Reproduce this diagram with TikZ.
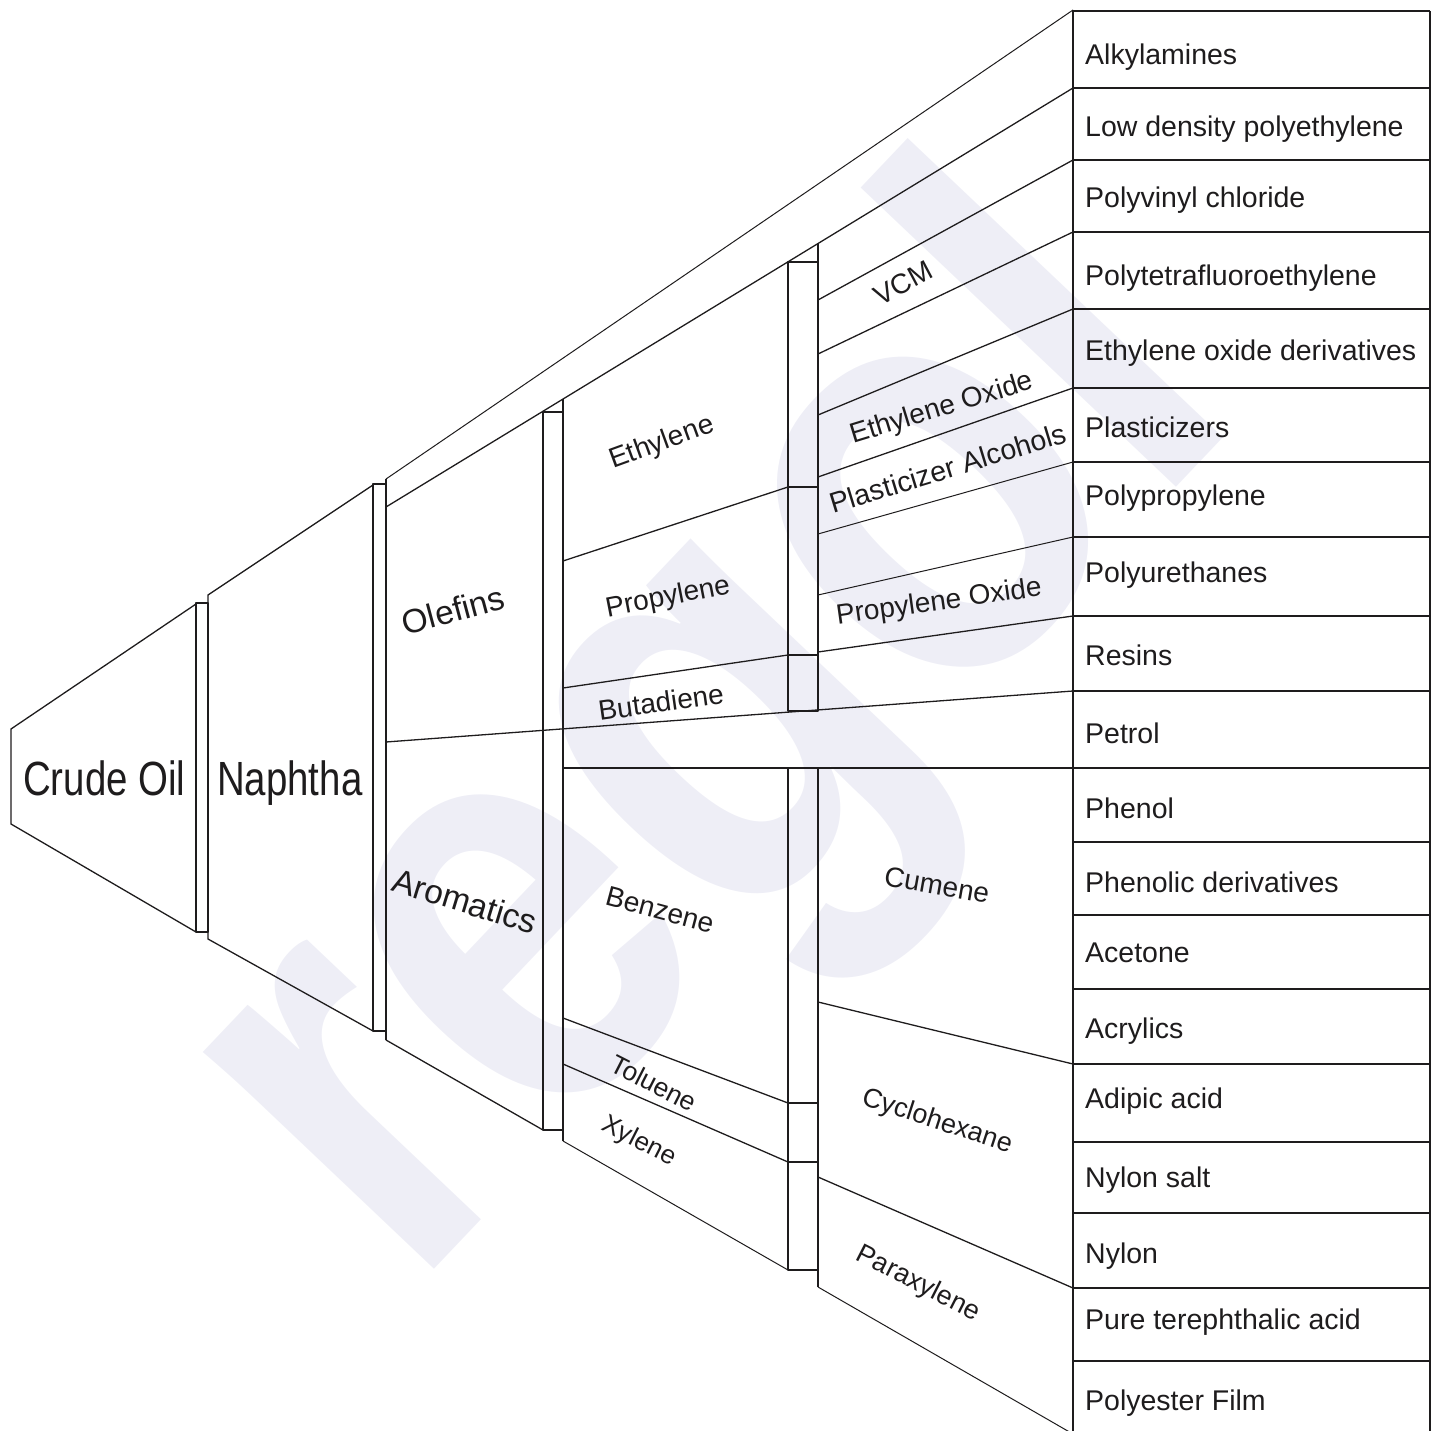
\documentclass[tikz,border=0pt]{standalone}
\usepackage{fontspec}
\setmainfont{Liberation Sans}
\usepackage{graphicx}
\definecolor{wm}{RGB}{238,238,246}
\definecolor{ln}{RGB}{30,28,29}
\begin{document}
\begin{tikzpicture}[x=1pt,y=-1pt,
  ln/.style={draw=ln,line width=1.3pt,line join=round},
  thin ln/.style={draw=ln,line width=1pt},
  lbl/.style={inner sep=0pt,text=ln,font=\fontsize{28}{30}\selectfont},
  prod/.style={inner sep=0pt,anchor=base west,text=ln,font=\fontsize{28.5}{30}\selectfont},
  big/.style={inner sep=0pt,anchor=base west,text=ln,font=\fontsize{48}{50}\selectfont},
  mid/.style={inner sep=0pt,text=ln,font=\fontsize{33.5}{35}\selectfont}]
\useasboundingbox (0,0) rectangle (1435,1431);
\begin{scope}
\clip (0,0) rectangle (1435,1431);
% watermark
\node[inner sep=0pt,anchor=base west,rotate=46.5,text=wm,font=\fontsize{600}{600}\selectfont\bfseries] (wmark) at (410,1295) {\scalebox{0.83}[1]{regol}};

% ---------- coordinates ----------
% crude oil
\coordinate (c1) at (11,729);  \coordinate (c2) at (11,824);
\coordinate (c3) at (196,604); \coordinate (c4) at (196,932);
% naphtha
\coordinate (n1) at (208,595); \coordinate (n2) at (208,939);
\coordinate (n3) at (373,485); \coordinate (n4) at (373,1031);
% olefins / aromatics column
\coordinate (o0) at (386,479); \coordinate (oA) at (386,507);
\coordinate (oM) at (386,742); \coordinate (oB) at (386,1040);
\coordinate (aB) at (543,1130);
% right column
\coordinate (r0) at (1073,10);
% ---------- shapes ----------
\draw[ln] (c3) -- (c1) -- (c2) -- (c4);
\draw[ln] (196,603) rectangle (208,932);
\draw[ln] (n3) -- (n1) -- (n2) -- (n4);
\draw[ln] (373,484) rectangle (386,1031);
\draw[ln] (o0) -- (oB);
\draw[thin ln] (o0) -- (r0);
\draw[ln] (oA) -- (1073,88);
\draw[ln] (oM) -- (1073,691);
\draw[ln] (oB) -- (aB);
% ethylene-level bar
\draw[ln] (543,412) rectangle (563,1130);
\draw[ln] (563,399) -- (563,1141);
\draw[ln] (563,561) -- (788,487);
\draw[ln] (563,688) -- (788,655);
\draw[ln] (563,768) -- (1073,768);
\draw[ln] (563,1018) -- (788,1103);
\draw[ln] (563,1064) -- (788,1162);
\draw[thin ln] (563,1141) -- (788,1270);
% upper bar 788-818
\draw[ln] (788,262) rectangle (818,711);
\draw[ln] (788,487) -- (818,487);
\draw[ln] (788,655) -- (818,655);
\draw[ln] (818,244) -- (818,711);
\draw[ln] (818,300) -- (1073,160);
\draw[ln] (818,354) -- (1073,232);
\draw[ln] (818,415) -- (1073,309);
\draw[ln] (818,477) -- (1073,388);
\draw[thin ln] (818,534) -- (1073,462);
\draw[thin ln] (818,595) -- (1073,537);
\draw[ln] (818,652) -- (1073,616);
% lower bar 788-818
\draw[ln] (788,768) rectangle (818,1270);
\draw[ln] (788,1103) -- (818,1103);
\draw[ln] (788,1162) -- (818,1162);
\draw[ln] (818,768) -- (818,1287);
\draw[ln] (818,1002) -- (1073,1064);
\draw[ln] (818,1177) -- (1073,1288);
\draw[thin ln] (818,1287) -- (1073,1434);
% product column
\draw[ln] (r0) -- (1073,1440);
\draw[ln] (1430,11) -- (1430,1440);
\foreach \yy in {11,88,160,232,309,388,462,537,616,691,768,842,915,989,1064,1142,1213,1288,1361}
  \draw[ln] (1073,\yy) -- (1430,\yy);
\end{scope}

% ---------- labels ----------
\node[big] (crude) at (23,795) {\scalebox{0.8}[1]{Crude Oil}};
\node[big] (naph) at (217,795) {\scalebox{0.8}[1]{Naphtha}};
\node[mid,rotate=15] (olef) at (453,610) {Olefins};
\node[mid,rotate=-17] (arom) at (465,901) {Aromatics};
\node[lbl,rotate=20] (eth) at (662,443) {Ethylene};
\node[lbl,rotate=11] (prop) at (668,598) {Propylene};
\node[lbl,rotate=8] (buta) at (661,702) {Butadiene};
\node[lbl,rotate=-15] (benz) at (660,910) {Benzene};
\node[lbl,rotate=-27,font=\fontsize{26.5}{28}\selectfont] (tol) at (654,1083) {Toluene};
\node[lbl,rotate=-27,font=\fontsize{26}{28}\selectfont] (xyl) at (639,1142) {Xylene};
\node[lbl,rotate=28] (vcm) at (903,283) {VCM};
\node[lbl,rotate=17] (eo) at (942,409) {Ethylene Oxide};
\node[lbl,rotate=17,font=\fontsize{28.5}{30}\selectfont] (pa) at (948,468) {Plasticizer Alcohols};
\node[lbl,rotate=8] (po) at (939,603) {Propylene Oxide};
\node[lbl,rotate=-10] (cum) at (937,885) {Cumene};
\node[lbl,rotate=-18,font=\fontsize{27}{28}\selectfont] (cyc) at (937,1122) {Cyclohexane};
\node[lbl,rotate=-27,font=\fontsize{27}{28}\selectfont] (para) at (918,1284) {Paraxylene};

\node[prod] (p1) at (1085,65) {Alkylamines};
\node[prod] (p2) at (1085,137) {Low density polyethylene};
\node[prod] (p3) at (1085,208) {Polyvinyl chloride};
\node[prod] (p4) at (1085,286) {Polytetrafluoroethylene};
\node[prod] (p5) at (1085,360) {Ethylene oxide derivatives};
\node[prod] (p6) at (1085,437) {Plasticizers};
\node[prod] (p7) at (1085,505) {Polypropylene};
\node[prod] (p8) at (1085,582) {Polyurethanes};
\node[prod] (p9) at (1085,665) {Resins};
\node[prod] (p10) at (1085,743) {Petrol};
\node[prod] (p11) at (1085,818) {Phenol};
\node[prod] (p12) at (1085,892) {Phenolic derivatives};
\node[prod] (p13) at (1085,962) {Acetone};
\node[prod] (p14) at (1085,1038) {Acrylics};
\node[prod] (p15) at (1085,1108) {Adipic acid};
\node[prod] (p16) at (1085,1187) {Nylon salt};
\node[prod] (p17) at (1085,1263) {Nylon};
\node[prod] (p18) at (1085,1329) {Pure terephthalic acid};
\node[prod] (p19) at (1085,1410) {Polyester Film};
\end{tikzpicture}
\end{document}
